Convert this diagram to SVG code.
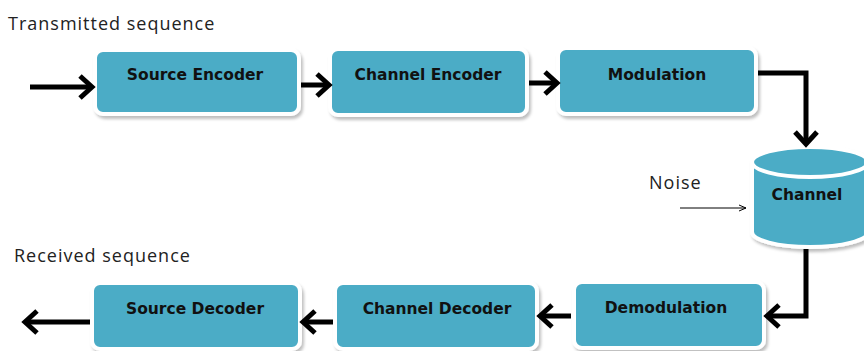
<svg xmlns="http://www.w3.org/2000/svg" width="864" height="351" viewBox="0 0 864 351">
<defs>
<filter id="sh" x="-10%" y="-10%" width="130%" height="140%">
<feGaussianBlur in="SourceAlpha" stdDeviation="1.5"/>
<feOffset dx="2" dy="3" result="b"/>
<feFlood flood-color="#000" flood-opacity="0.25"/>
<feComposite in2="b" operator="in"/>
<feMerge><feMergeNode/><feMergeNode in="SourceGraphic"/></feMerge>
</filter>
<marker id="ah" markerUnits="userSpaceOnUse" markerWidth="20" markerHeight="26" refX="15" refY="13" orient="auto" overflow="visible">
<path d="M3,2 L15,13 L3,24" fill="none" stroke="#000" stroke-width="5" stroke-linejoin="miter"/>
</marker>
<marker id="sa" markerUnits="userSpaceOnUse" markerWidth="10" markerHeight="8" refX="8" refY="4" orient="auto">
<path d="M1,1 L8,4 L1,7" fill="none" stroke="#000" stroke-width="1"/>
</marker>
</defs>
<style>
.box{fill:#4bacc6;stroke:#fff;stroke-width:4;filter:url(#sh)}
.lbl{font-family:"DejaVu Sans",sans-serif;font-weight:bold;font-size:15.5px;fill:#111;text-anchor:middle}
.plain{font-family:"Open Sans","Liberation Sans",sans-serif;font-size:18px;letter-spacing:1px;fill:#222}
.conn{fill:none;stroke:#000;stroke-width:5;marker-end:url(#ah)}
</style>
<rect width="864" height="351" fill="#fff"/>
<text class="plain" x="8" y="30">Transmitted sequence</text>
<text class="plain" x="14" y="262">Received sequence</text>
<text class="plain" x="649" y="189" fill="#333">Noise</text>

<g id="source-encoder"><rect class="box" x="95" y="50" width="204" height="64" rx="8"/><text class="lbl" x="195" y="80">Source  Encoder</text></g>
<g id="channel-encoder"><rect class="box" x="330" y="49" width="197" height="66" rx="8"/><text class="lbl" x="428" y="80">Channel Encoder</text></g>
<g id="modulation"><rect class="box" x="558" y="48" width="198" height="66" rx="8"/><text class="lbl" x="657" y="80">Modulation</text></g>
<g id="channel">
<path class="box" d="M752,162 A58,15 0 0 1 868,162 V232 A58,15 0 0 1 752,232 Z"/>
<ellipse cx="810" cy="162" rx="58" ry="15" fill="#4bacc6" stroke="#fff" stroke-width="4"/>
<text class="lbl" x="807" y="200">Channel</text></g>
<g id="demodulation"><rect class="box" x="574" y="282" width="190" height="66" rx="8"/><text class="lbl" x="666" y="313">Demodulation</text></g>
<g id="channel-decoder"><rect class="box" x="335" y="283" width="202" height="66" rx="8"/><text class="lbl" x="437" y="314">Channel Decoder</text></g>
<g id="source-decoder"><rect class="box" x="92" y="283" width="208" height="66" rx="8"/><text class="lbl" x="195" y="314">Source Decoder</text></g>

<g id="connectors">
<path class="conn" d="M30,87 H92"/>
<path class="conn" d="M301,85 H329"/>
<path class="conn" d="M529,83 H557"/>
<path class="conn" d="M758,73 H806 V144"/>
<path class="conn" d="M806,249 V316 H767"/>
<path class="conn" d="M571,316 H540"/>
<path class="conn" d="M333,322 H303"/>
<path class="conn" d="M90,322 H25"/>
<path d="M680,208 H746" fill="none" stroke="#000" stroke-width="1" marker-end="url(#sa)"/>
</g>
</svg>
